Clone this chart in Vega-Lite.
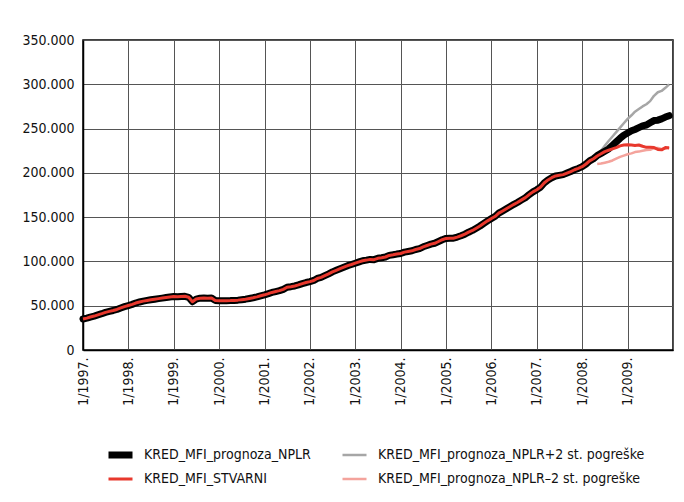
{
  "$schema": "https://vega.github.io/schema/vega-lite/v6.json",
  "width": 590,
  "height": 310,
  "padding": {"left": 21, "top": 33, "right": 10, "bottom": 5},
  "background": "white",
  "config": {
    "font": "'Liberation Sans Narrow', 'DejaVu Sans Condensed', 'Roboto Condensed', Roboto, sans-serif",
    "view": {"stroke": "#000000", "strokeWidth": 1.5},
    "axis": {
      "labelFont": "'Liberation Sans Narrow', 'DejaVu Sans Condensed', 'Roboto Condensed', Roboto, sans-serif",
      "labelFontSize": 14,
      "labelColor": "#111111",
      "gridColor": "#555555",
      "gridWidth": 1,
      "gridOpacity": 1,
      "domainColor": "#000000",
      "domainWidth": 1.5,
      "ticks": false,
      "title": null
    },
    "legend": {
      "labelFont": "'Liberation Sans Narrow', 'DejaVu Sans Condensed', 'Roboto Condensed', Roboto, sans-serif",
      "labelFontSize": 14,
      "labelColor": "#111111"
    }
  },
  "data": {
    "values": [
      {"d": "1997-01", "a": 35000, "n": 35000}, {"d": "1997-02", "a": 36000, "n": 36000}, {"d": "1997-03", "a": 37200, "n": 37200}, {"d": "1997-04", "a": 38300, "n": 38300}, {"d": "1997-05", "a": 39600, "n": 39600}, {"d": "1997-06", "a": 41000, "n": 41000}, {"d": "1997-07", "a": 42500, "n": 42500}, {"d": "1997-08", "a": 43600, "n": 43600}, {"d": "1997-09", "a": 44600, "n": 44600}, {"d": "1997-10", "a": 45800, "n": 45800}, {"d": "1997-11", "a": 47500, "n": 47500}, {"d": "1997-12", "a": 49000, "n": 49000},
      {"d": "1998-01", "a": 50200, "n": 50200}, {"d": "1998-02", "a": 51500, "n": 51500}, {"d": "1998-03", "a": 53000, "n": 53000}, {"d": "1998-04", "a": 54200, "n": 54200}, {"d": "1998-05", "a": 55200, "n": 55200}, {"d": "1998-06", "a": 56000, "n": 56000}, {"d": "1998-07", "a": 56800, "n": 56800}, {"d": "1998-08", "a": 57400, "n": 57400}, {"d": "1998-09", "a": 58000, "n": 58000}, {"d": "1998-10", "a": 58600, "n": 58600}, {"d": "1998-11", "a": 59300, "n": 59300}, {"d": "1998-12", "a": 59900, "n": 59900},
      {"d": "1999-01", "a": 60300, "n": 60300}, {"d": "1999-02", "a": 60000, "n": 60000}, {"d": "1999-03", "a": 60400, "n": 60400}, {"d": "1999-04", "a": 60600, "n": 60600}, {"d": "1999-05", "a": 59500, "n": 59500}, {"d": "1999-06", "a": 54500, "n": 54500}, {"d": "1999-07", "a": 57500, "n": 57500}, {"d": "1999-08", "a": 58500, "n": 58500}, {"d": "1999-09", "a": 58600, "n": 58600}, {"d": "1999-10", "a": 58500, "n": 58500}, {"d": "1999-11", "a": 58700, "n": 58700}, {"d": "1999-12", "a": 56000, "n": 56000},
      {"d": "2000-01", "a": 55600, "n": 55600}, {"d": "2000-02", "a": 55500, "n": 55500}, {"d": "2000-03", "a": 55700, "n": 55700}, {"d": "2000-04", "a": 55800, "n": 55800}, {"d": "2000-05", "a": 56000, "n": 56000}, {"d": "2000-06", "a": 56300, "n": 56300}, {"d": "2000-07", "a": 56800, "n": 56800}, {"d": "2000-08", "a": 57400, "n": 57400}, {"d": "2000-09", "a": 58200, "n": 58200}, {"d": "2000-10", "a": 59000, "n": 59000}, {"d": "2000-11", "a": 60000, "n": 60000}, {"d": "2000-12", "a": 61200, "n": 61200},
      {"d": "2001-01", "a": 62300, "n": 62300}, {"d": "2001-02", "a": 63600, "n": 63600}, {"d": "2001-03", "a": 65000, "n": 65000}, {"d": "2001-04", "a": 66000, "n": 66000}, {"d": "2001-05", "a": 67000, "n": 67000}, {"d": "2001-06", "a": 68500, "n": 68500}, {"d": "2001-07", "a": 70800, "n": 70800}, {"d": "2001-08", "a": 71500, "n": 71500}, {"d": "2001-09", "a": 72300, "n": 72300}, {"d": "2001-10", "a": 73500, "n": 73500}, {"d": "2001-11", "a": 75000, "n": 75000}, {"d": "2001-12", "a": 76200, "n": 76200},
      {"d": "2002-01", "a": 77200, "n": 77200}, {"d": "2002-02", "a": 78500, "n": 78500}, {"d": "2002-03", "a": 80800, "n": 80800}, {"d": "2002-04", "a": 82000, "n": 82000}, {"d": "2002-05", "a": 84000, "n": 84000}, {"d": "2002-06", "a": 86000, "n": 86000}, {"d": "2002-07", "a": 88200, "n": 88200}, {"d": "2002-08", "a": 90000, "n": 90000}, {"d": "2002-09", "a": 91800, "n": 91800}, {"d": "2002-10", "a": 93500, "n": 93500}, {"d": "2002-11", "a": 95200, "n": 95200}, {"d": "2002-12", "a": 96500, "n": 96500},
      {"d": "2003-01", "a": 98000, "n": 98000}, {"d": "2003-02", "a": 99500, "n": 99500}, {"d": "2003-03", "a": 100800, "n": 100800}, {"d": "2003-04", "a": 101500, "n": 101500}, {"d": "2003-05", "a": 102300, "n": 102300}, {"d": "2003-06", "a": 102000, "n": 102000}, {"d": "2003-07", "a": 103500, "n": 103500}, {"d": "2003-08", "a": 104200, "n": 104200}, {"d": "2003-09", "a": 105000, "n": 105000}, {"d": "2003-10", "a": 106800, "n": 106800}, {"d": "2003-11", "a": 107500, "n": 107500}, {"d": "2003-12", "a": 108300, "n": 108300},
      {"d": "2004-01", "a": 109000, "n": 109000}, {"d": "2004-02", "a": 110500, "n": 110500}, {"d": "2004-03", "a": 111200, "n": 111200}, {"d": "2004-04", "a": 112000, "n": 112000}, {"d": "2004-05", "a": 113500, "n": 113500}, {"d": "2004-06", "a": 114500, "n": 114500}, {"d": "2004-07", "a": 116500, "n": 116500}, {"d": "2004-08", "a": 118000, "n": 118000}, {"d": "2004-09", "a": 119500, "n": 119500}, {"d": "2004-10", "a": 120500, "n": 120500}, {"d": "2004-11", "a": 122500, "n": 122500}, {"d": "2004-12", "a": 124500, "n": 124500},
      {"d": "2005-01", "a": 126000, "n": 126000}, {"d": "2005-02", "a": 126300, "n": 126300}, {"d": "2005-03", "a": 126200, "n": 126200}, {"d": "2005-04", "a": 127500, "n": 127500}, {"d": "2005-05", "a": 129000, "n": 129000}, {"d": "2005-06", "a": 130800, "n": 130800}, {"d": "2005-07", "a": 133000, "n": 133000}, {"d": "2005-08", "a": 135000, "n": 135000}, {"d": "2005-09", "a": 137500, "n": 137500}, {"d": "2005-10", "a": 140000, "n": 140000}, {"d": "2005-11", "a": 143000, "n": 143000}, {"d": "2005-12", "a": 145800, "n": 145800},
      {"d": "2006-01", "a": 148500, "n": 148500}, {"d": "2006-02", "a": 151000, "n": 151000}, {"d": "2006-03", "a": 154500, "n": 154500}, {"d": "2006-04", "a": 157000, "n": 157000}, {"d": "2006-05", "a": 159500, "n": 159500}, {"d": "2006-06", "a": 162000, "n": 162000}, {"d": "2006-07", "a": 164500, "n": 164500}, {"d": "2006-08", "a": 166800, "n": 166800}, {"d": "2006-09", "a": 169500, "n": 169500}, {"d": "2006-10", "a": 172000, "n": 172000}, {"d": "2006-11", "a": 175500, "n": 175500}, {"d": "2006-12", "a": 178500, "n": 178500},
      {"d": "2007-01", "a": 181000, "n": 181000}, {"d": "2007-02", "a": 184000, "n": 184000}, {"d": "2007-03", "a": 188500, "n": 188500}, {"d": "2007-04", "a": 192000, "n": 192000}, {"d": "2007-05", "a": 194500, "n": 194500}, {"d": "2007-06", "a": 196500, "n": 196500}, {"d": "2007-07", "a": 197200, "n": 197200}, {"d": "2007-08", "a": 198000, "n": 198000}, {"d": "2007-09", "a": 199800, "n": 199800}, {"d": "2007-10", "a": 201500, "n": 201500}, {"d": "2007-11", "a": 203500, "n": 203500}, {"d": "2007-12", "a": 205000, "n": 205000},
      {"d": "2008-01", "a": 207000, "n": 207000}, {"d": "2008-02", "a": 210000, "n": 210000}, {"d": "2008-03", "a": 213500, "n": 213500}, {"d": "2008-04", "a": 216000, "n": 216000},
      {"d": "2008-05", "a": 219000, "n": 219500, "p": 220000, "m": 210000},
      {"d": "2008-06", "a": 221500, "n": 222000, "p": 225000, "m": 210500},
      {"d": "2008-07", "a": 224000, "n": 224500, "p": 230500, "m": 211500},
      {"d": "2008-08", "a": 225500, "n": 227000, "p": 236000, "m": 212500},
      {"d": "2008-09", "a": 227000, "n": 231000, "p": 241000, "m": 214000},
      {"d": "2008-10", "a": 228500, "n": 235000, "p": 246000, "m": 216000},
      {"d": "2008-11", "a": 230500, "n": 239000, "p": 251000, "m": 218000},
      {"d": "2008-12", "a": 231500, "n": 242500, "p": 256000, "m": 219500},
      {"d": "2009-01", "a": 231800, "n": 245000, "p": 261000, "m": 221000},
      {"d": "2009-02", "a": 231500, "n": 247500, "p": 265000, "m": 222000},
      {"d": "2009-03", "a": 231000, "n": 249000, "p": 269000, "m": 223500},
      {"d": "2009-04", "a": 231400, "n": 251000, "p": 272000, "m": 224000},
      {"d": "2009-05", "a": 230000, "n": 253000, "p": 275000, "m": 225000},
      {"d": "2009-06", "a": 228800, "n": 254000, "p": 277500, "m": 225800},
      {"d": "2009-07", "a": 229000, "n": 256500, "p": 281000, "m": 226000},
      {"d": "2009-08", "a": 228500, "n": 259000, "p": 287000, "m": 228000},
      {"d": "2009-09", "a": 226500, "n": 259500, "p": 291000, "m": 228000},
      {"d": "2009-10", "a": 226000, "n": 261000, "p": 292500, "m": 227000},
      {"d": "2009-11", "a": 228500, "n": 263000, "p": 296000, "m": 227500},
      {"d": "2009-12", "a": 228000, "n": 264500, "p": 300000, "m": 229000}
    ]
  },
  "transform": [
    {"fold": ["n", "a", "p", "m"], "as": ["key", "value"]},
    {"filter": "isValid(datum.value)"}
  ],
  "encoding": {
    "x": {
      "field": "d",
      "type": "temporal",
      "timeUnit": "utcyearmonth",
      "scale": {
        "domain": [
          {"year": 1997, "month": 1, "date": 1, "utc": true},
          {"year": 2010, "month": 1, "date": 1, "utc": true}
        ],
        "nice": false
      },
      "axis": {
        "tickCount": {"interval": "year", "step": 1},
        "labelExpr": "utcFormat(datum.value, '%Y') == '2010' ? '' : '1/' + utcFormat(datum.value, '%Y') + '.'",
        "labelAngle": -90,
        "labelAlign": "right",
        "labelBaseline": "middle",
        "labelPadding": 7,
        "grid": true,
        "title": null
      }
    },
    "y": {
      "field": "value",
      "type": "quantitative",
      "scale": {"domain": [0, 350000], "nice": false},
      "axis": {
        "values": [0, 50000, 100000, 150000, 200000, 250000, 300000, 350000],
        "labelExpr": "datum.value == 0 ? '0' : replace(format(datum.value, ','), ',', '.')",
        "labelPadding": 9,
        "grid": true,
        "title": null
      }
    },
    "color": {
      "field": "key",
      "type": "nominal",
      "scale": {"domain": ["n", "a", "p", "m"], "range": ["#000000", "#e8382d", "#a6a6a6", "#f4a39c"]},
      "legend": {
        "orient": "none",
        "legendX": 22,
        "legendY": 404,
        "columns": 2,
        "title": null,
        "symbolType": "stroke",
        "symbolSize": 576,
        "clipHeight": 22,
        "columnPadding": 28,
        "rowPadding": 2,
        "labelOffset": 8,
        "labelLimit": 400,
        "labelExpr": "datum.label == 'n' ? 'KRED_MFI_prognoza_NPLR' : datum.label == 'p' ? 'KRED_MFI_prognoza_NPLR+2 st. pogreške' : datum.label == 'a' ? 'KRED_MFI_STVARNI' : 'KRED_MFI_prognoza_NPLR–2 st. pogreške'"
      }
    },
    "strokeWidth": {
      "field": "key",
      "type": "nominal",
      "scale": {"type": "ordinal", "domain": ["n", "a", "p", "m"], "range": [7, 3, 2.5, 2.5]},
      "legend": {
        "orient": "none",
        "legendX": 22,
        "legendY": 404,
        "columns": 2,
        "title": null,
        "symbolType": "stroke",
        "symbolSize": 576,
        "clipHeight": 22,
        "columnPadding": 28,
        "rowPadding": 2,
        "labelOffset": 8,
        "labelLimit": 400,
        "labelExpr": "datum.label == 'n' ? 'KRED_MFI_prognoza_NPLR' : datum.label == 'p' ? 'KRED_MFI_prognoza_NPLR+2 st. pogreške' : datum.label == 'a' ? 'KRED_MFI_STVARNI' : 'KRED_MFI_prognoza_NPLR–2 st. pogreške'"
      }
    }
  },
  "layer": [
    {"transform": [{"filter": "datum.key == 'p' || datum.key == 'm'"}], "mark": {"type": "line", "strokeJoin": "round"}},
    {"transform": [{"filter": "datum.key == 'n'"}], "mark": {"type": "line", "strokeCap": "round", "strokeJoin": "round"}},
    {"transform": [{"filter": "datum.key == 'a'"}], "mark": {"type": "line", "strokeJoin": "round"}}
  ]
}
